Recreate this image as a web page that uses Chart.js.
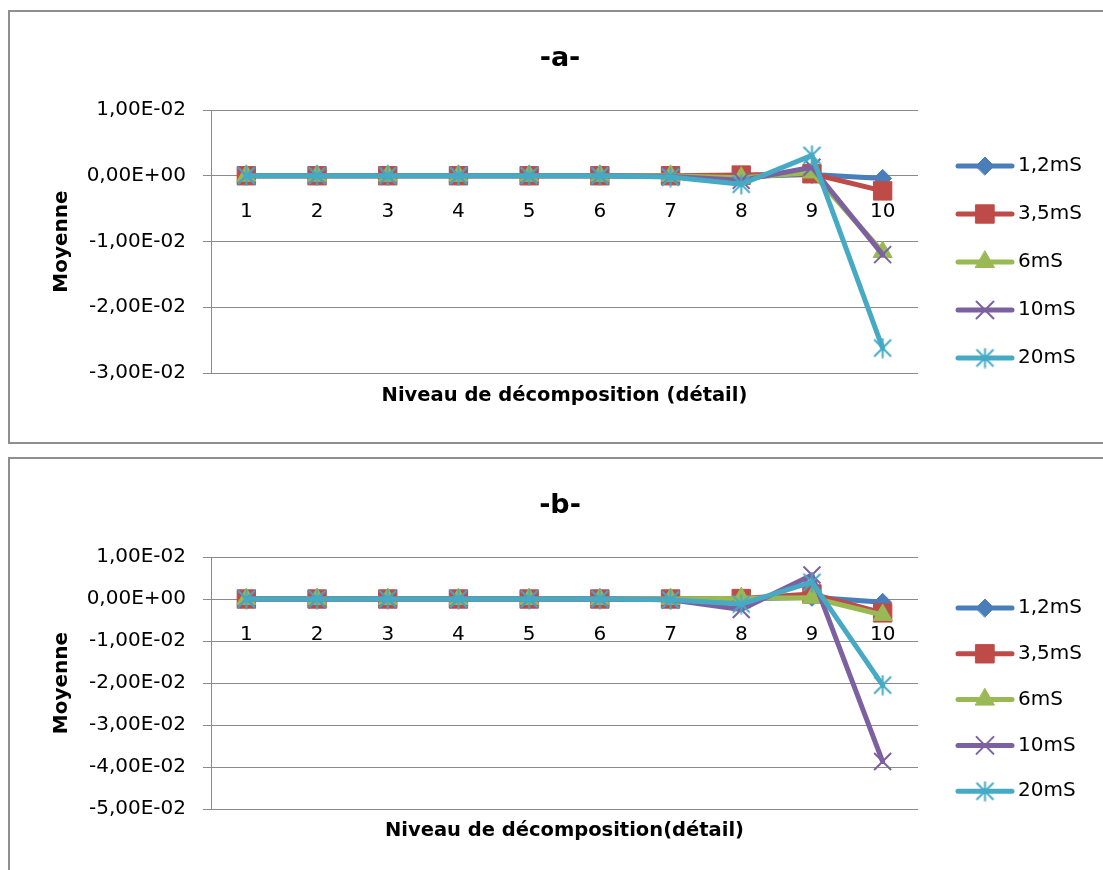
<!DOCTYPE html>
<html>
<head>
<meta charset="utf-8">
<script src="https://cdn.jsdelivr.net/npm/chart.js@4/dist/chart.umd.min.js"></script>
<style>
  html, body { margin: 0; padding: 0; background: #fff; overflow: hidden; }
  canvas { position: absolute; left: 0; display: block; }
</style>
</head>
<body>
<canvas id="chartA" width="1103" height="450" style="top:0"></canvas>
<canvas id="chartB" width="1103" height="420" style="top:450px"></canvas>
<script>
// categories (decomposition level) and series names
const levels = ['1', '2', '3', '4', '5', '6', '7', '8', '9', '10'];
const seriesNames = ['1,2mS', '3,5mS', '6mS', '10mS', '20mS'];

// -a- : mean per level
const a_1_2mS = [0, 0, 0, 0, 0, 0, 0, -0.0001, 0.0002, -0.0004];
const a_3_5mS = [0, 0, 0, 0, 0, 0, 0, 0.0001, 0.0003, -0.0023];
const a_6mS   = [0, 0, 0, 0, 0, 0, 0, -0.0003, 0.0005, -0.0116];
const a_10mS  = [0, 0, 0, 0, 0, 0, -0.0001, -0.0007, 0.0013, -0.0120];
const a_20mS  = [0, 0, 0, 0, 0, 0, -0.0002, -0.0013, 0.0031, -0.0262];
const yRangeA = [-0.03, 0.01];

// -b- : mean per level
const b_1_2mS = [0, 0, 0, 0, 0, 0, 0, 0, 0.0004, -0.0008];
const b_3_5mS = [0, 0, 0, 0, 0, 0, 0, 0.0001, 0.0012, -0.0033];
const b_6mS   = [0, 0, 0, 0, 0, 0, 0, 0.0002, 0.0003, -0.0038];
const b_10mS  = [0, 0, 0, 0, 0, 0, -0.0002, -0.0025, 0.0057, -0.0387];
const b_20mS  = [0, 0, 0, 0, 0, 0, -0.0002, -0.0012, 0.0040, -0.0205];
const yRangeB = [-0.05, 0.01];
const yStep = 0.01;

const FONT = 'DejaVu Sans';
const colors = ['#4a7ebb', '#be4b48', '#98b954', '#7d60a0', '#46aac5'];

function asterisk(color, size, lw) {
  const c = document.createElement('canvas');
  c.width = c.height = size;
  const g = c.getContext('2d');
  g.strokeStyle = color;
  g.lineWidth = lw;
  const p = lw / 2 + 1, q = size - p, m = size / 2;
  g.beginPath();
  g.moveTo(p, p); g.lineTo(q, q);
  g.moveTo(q, p); g.lineTo(p, q);
  g.moveTo(m, 0.5); g.lineTo(m, size - 0.5);
  g.stroke();
  return c;
}

const markers = [
  { pointStyle: 'rectRot', pointRadius: 9, pointBorderWidth: 1 },
  { pointStyle: 'rect', pointRadius: 13, pointBorderWidth: 1 },
  { pointStyle: 'triangle', pointRadius: 11, pointBorderWidth: 1 },
  { pointStyle: 'crossRot', pointRadius: 12, pointBorderWidth: 2 },
  { pointStyle: asterisk(colors[4], 21, 2), pointRadius: 10, pointBorderWidth: 2 }
];

// E notation with comma, like "-1,00E-02"
function sci(v) {
  if (Math.abs(v) < 1e-12) return '0,00E+00';
  let e = Math.floor(Math.log10(Math.abs(v)) + 1e-9);
  let m = v / Math.pow(10, e);
  if (Math.abs(m) >= 9.995) { m /= 10; e += 1; }
  return m.toFixed(2).replace('.', ',') + 'E' + (e < 0 ? '-' : '+') + String(Math.abs(e)).padStart(2, '0');
}

// open frame (left, top, bottom) around each chart
const frame = {
  id: 'frame',
  beforeDraw(chart, args, opts) {
    const ctx = chart.ctx;
    ctx.save();
    ctx.strokeStyle = '#8f8f8f';
    ctx.lineWidth = 2;
    ctx.beginPath();
    ctx.moveTo(chart.width, opts.top);
    ctx.lineTo(opts.left, opts.top);
    ctx.lineTo(opts.left, opts.bottom);
    if (opts.bottom < chart.height) ctx.lineTo(chart.width, opts.bottom);
    ctx.stroke();
    ctx.restore();
  }
};

const sideLegend = {
  id: 'sideLegend',
  afterDraw(chart, args, opts) {
    const ctx = chart.ctx;
    chart.data.datasets.forEach((ds, i) => {
      const y = opts.top + i * opts.gap;
      ctx.save();
      ctx.strokeStyle = ds.borderColor;
      ctx.lineWidth = ds.borderWidth;
      ctx.lineCap = 'round';
      ctx.beginPath();
      ctx.moveTo(opts.x0, y);
      ctx.lineTo(opts.x1, y);
      ctx.stroke();
      ctx.fillStyle = ds.pointBackgroundColor;
      ctx.strokeStyle = ds.pointBorderColor;
      ctx.lineWidth = ds.pointBorderWidth;
      Chart.helpers.drawPoint(ctx, {
        pointStyle: ds.pointStyle, radius: ds.pointRadius,
        borderWidth: ds.pointBorderWidth, rotation: 0
      }, (opts.x0 + opts.x1) / 2, y);
      ctx.fillStyle = '#000';
      ctx.font = '20px "' + FONT + '"';
      ctx.textBaseline = 'middle';
      ctx.textAlign = 'left';
      ctx.fillText(ds.label, opts.textX, y);
      ctx.restore();
    });
  }
};

function makeChart(id, title, xTitle, series, yRange, g) {
  const datasets = series.map((data, i) => ({
    label: seriesNames[i],
    data: data,
    borderColor: colors[i],
    backgroundColor: colors[i],
    pointBackgroundColor: colors[i],
    pointBorderColor: colors[i],
    borderWidth: 5,
    borderJoinStyle: 'round',
    borderCapStyle: 'round',
    tension: 0,
    clip: false,
    order: series.length - i,
    ...markers[i]
  }));

  return new Chart(document.getElementById(id), {
    type: 'line',
    data: { labels: levels, datasets: datasets },
    plugins: [frame, sideLegend],
    options: {
      responsive: false,
      animation: false,
      devicePixelRatio: 1,
      events: [],
      layout: { padding: { left: 17, right: 0, top: 0, bottom: g.padBottom } },
      plugins: {
        legend: { display: false },
        tooltip: { enabled: false },
        title: {
          display: true,
          text: title,
          color: '#000',
          font: { family: FONT, size: 27, weight: 'bold' },
          padding: { top: g.titleTop, bottom: g.titleBottom }
        },
        frame: { left: 9, top: g.frameTop, bottom: g.frameBottom },
        sideLegend: { x0: 958, x1: 1012, textX: 1018, top: g.legendTop, gap: g.legendGap }
      },
      scales: {
        x: {
          type: 'category',
          position: { y: 0 },
          offset: true,
          grid: { display: false, drawTicks: false },
          border: { display: false },
          ticks: { color: '#000', font: { family: FONT, size: 20 }, padding: 24, maxRotation: 0, autoSkip: false }
        },
        x2: {
          type: 'category',
          position: 'bottom',
          labels: levels,
          offset: true,
          grid: { display: false, drawTicks: false },
          border: { display: false },
          ticks: { display: false },
          title: {
            display: true, text: xTitle, color: '#000',
            font: { family: FONT, size: 19.5, weight: 'bold' },
            padding: { top: 0, bottom: 0 }
          },
          afterFit: s => { s.height = g.xTitleBand; }
        },
        y: {
          position: 'left',
          min: yRange[0],
          max: yRange[1],
          grid: { color: '#8a8a8a', lineWidth: 1, tickLength: 8, drawTicks: true },
          border: { display: true, color: '#8a8a8a', width: 1 },
          ticks: {
            stepSize: yStep, color: '#000', padding: 17,
            font: { family: FONT, size: 20 },
            callback: v => sci(v)
          },
          title: {
            display: true, text: 'Moyenne', color: '#000',
            font: { family: FONT, size: 20, weight: 'bold' },
            padding: { top: 33, bottom: 0 }
          },
          afterFit: s => { s.width = 194; }
        },
        // empty band on the right that holds the legend
        yLegend: {
          type: 'linear',
          position: 'right',
          grid: { display: false, drawTicks: false },
          border: { display: false },
          ticks: { display: false },
          afterFit: s => { s.width = 185; }
        }
      }
    }
  });
}

makeChart('chartA', '-a-', 'Niveau de décomposition (détail)',
  [a_1_2mS, a_3_5mS, a_6mS, a_10mS, a_20mS], yRangeA,
  { titleTop: 42.8, titleBottom: 34.8, xTitleBand: 34.7, padBottom: 42.3, legendTop: 166, legendGap: 48,
    frameTop: 11, frameBottom: 443 });

makeChart('chartB', '-b-', 'Niveau de décomposition(détail)',
  [b_1_2mS, b_3_5mS, b_6mS, b_10mS, b_20mS], yRangeB,
  { titleTop: 39.3, titleBottom: 35.3, xTitleBand: 33.7, padBottom: 27.3, legendTop: 158, legendGap: 45.8,
    frameTop: 8, frameBottom: 440 });
</script>
</body>
</html>
